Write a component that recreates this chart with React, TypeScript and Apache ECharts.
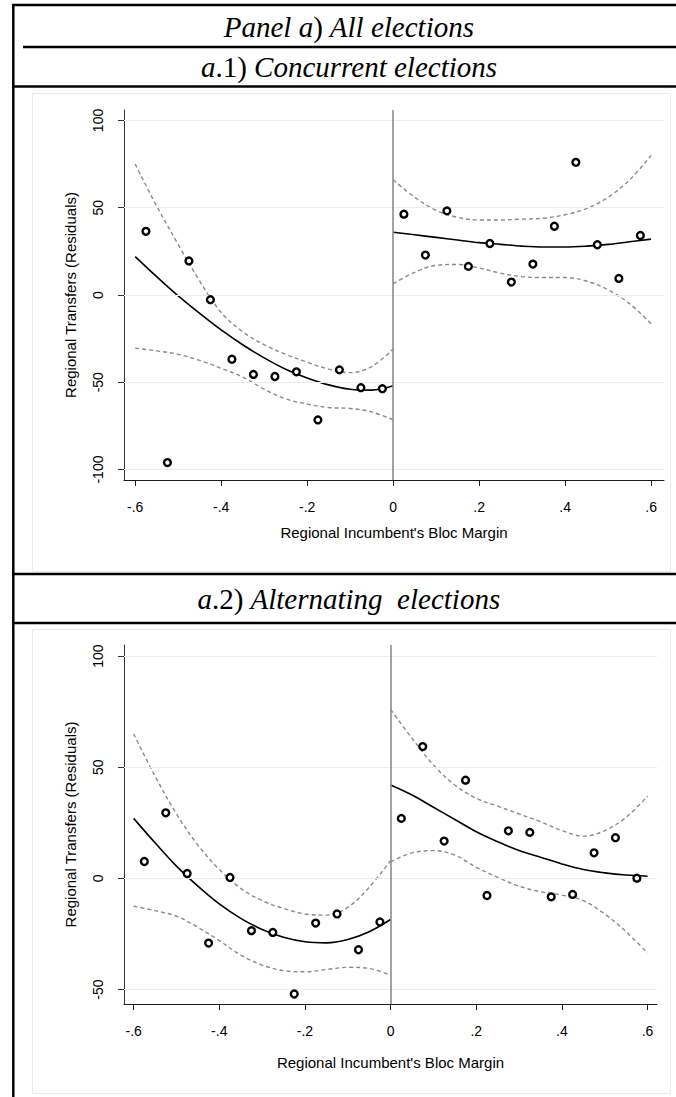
import React, { useEffect, useRef } from 'react';
import * as echarts from 'echarts';

// ---------- data ----------
const X_TICKS = [-0.6, -0.4, -0.2, 0, 0.2, 0.4, 0.6];
const Y1_TICKS = [-100, -50, 0, 50, 100];
const Y2_TICKS = [-50, 0, 50, 100];

const BIN_LEFT = [-0.575, -0.525, -0.475, -0.425, -0.375, -0.325, -0.275, -0.225, -0.175, -0.125, -0.075, -0.025];
const BIN_RIGHT = [0.025, 0.075, 0.125, 0.175, 0.225, 0.275, 0.325, 0.375, 0.425, 0.475, 0.525, 0.575];
const FIT_X_LEFT = [-0.6, -0.55, -0.5, -0.45, -0.4, -0.35, -0.3, -0.25, -0.2, -0.15, -0.1, -0.05, 0];
const FIT_X_RIGHT = [0, 0.05, 0.1, 0.15, 0.2, 0.25, 0.3, 0.35, 0.4, 0.45, 0.5, 0.55, 0.6];

// a.1) Concurrent elections
const P1_LEFT_Y = [36.5, -96, 19.5, -2.7, -36.8, -45.5, -46.7, -44, -71.6, -42.9, -53.1, -53.7];
const P1_RIGHT_Y = [46.3, 22.9, 48.2, 16.4, 29.5, 7.4, 17.7, 39.4, 76, 28.8, 9.5, 34.1];
const P1_FIT_L = [22, 10.5, -0.5, -10.5, -20, -28.5, -36, -42.5, -47.5, -51.5, -54, -54.5, -52];
const P1_UP_L = [75, 51, 29, 8, -10, -21, -28.5, -34, -38.5, -42.5, -44.5, -41, -31];
const P1_LO_L = [-30.5, -32, -34, -37.5, -42, -47, -54, -59.5, -62.5, -64.5, -65, -67, -71.5];
const P1_FIT_R = [36, 34.5, 33, 31.5, 30, 29, 28, 27.5, 27.5, 28, 29, 30.5, 32];
const P1_UP_R = [66, 56, 48.5, 44.5, 43, 43, 43.5, 44, 46, 49.5, 56, 66, 80];
const P1_LO_R = [6.5, 13, 17, 17.5, 15.5, 12.5, 10.5, 10, 10, 8, 3, -5, -16.5];

// a.2) Alternating elections
const P2_LEFT_Y = [7.6, 29.5, 2.2, -29.1, 0.4, -23.5, -24.3, -52, -20.1, -16, -32.1, -19.6];
const P2_RIGHT_Y = [27, 59.3, 16.8, 44.2, -7.7, 21.4, 20.7, -8.3, -7.2, 11.5, 18.3, 0.1];
const P2_FIT_L = [27, 16, 5.5, -3.5, -11.5, -18, -23, -26.5, -28.5, -29, -27.5, -24, -18.5];
const P2_UP_L = [65, 46, 29, 15, 4, -4.5, -10, -13.5, -16, -16.5, -13, -4, 8];
const P2_LO_L = [-12.5, -14.5, -17, -22, -28, -34.5, -39, -41.5, -42, -41, -40, -40.5, -43.5];
const P2_FIT_R = [42, 37.5, 32, 26.5, 21, 16.5, 12.5, 9.5, 6.5, 4, 2.5, 1.5, 1];
const P2_UP_R = [76, 63, 51, 42, 36, 32.5, 29, 25.5, 21.5, 19, 21.5, 27.5, 37];
const P2_LO_R = [7.5, 11.5, 12.5, 10.5, 5, 0.5, -3.5, -6, -7.5, -10, -16, -24, -33.5];

const X_TITLE = "Regional Incumbent's Bloc Margin";
const Y_TITLE = 'Regional Transfers (Residuals)';

// ---------- helpers ----------
const SANS = "'Liberation Sans', Arial, Helvetica, sans-serif";
const SERIF = "'Liberation Serif', 'Times New Roman', serif";

const zip = (xs: number[], ys: number[]) => xs.map((x, i) => [x, ys[i]]);

const fmtX = (v: number) => {
  if (Math.abs(v) < 1e-9) return '0';
  return (v < 0 ? '-' : '') + Math.abs(v).toFixed(1).replace(/^0/, '');
};

function makeAxes(idx: number, xMin: number, xMax: number, yMin: number, yMax: number, yTicks: number[], xNameGap: number) {
  const xAxis = {
    type: 'value',
    gridIndex: idx,
    min: xMin,
    max: xMax,
    axisLine: { show: true, onZero: false, lineStyle: { color: '#1a1a1a', width: 1 } },
    axisTick: { show: true, length: 6, customValues: X_TICKS, lineStyle: { color: '#1a1a1a', width: 1 } },
    axisLabel: { customValues: X_TICKS, formatter: fmtX, fontSize: 14, color: '#000', margin: 20, fontFamily: SANS },
    splitLine: { show: false },
    name: X_TITLE,
    nameLocation: 'middle',
    nameGap: xNameGap,
    nameTextStyle: { fontSize: 15, color: '#000', fontFamily: SANS },
  };
  const yAxis = {
    type: 'value',
    gridIndex: idx,
    min: yMin,
    max: yMax,
    axisLine: { show: true, onZero: false, lineStyle: { color: '#333', width: 1 } },
    axisTick: { show: true, length: 6, customValues: yTicks, lineStyle: { color: '#333', width: 1 } },
    axisLabel: { customValues: yTicks, rotate: 90, fontSize: 14, color: '#000', margin: 19, fontFamily: SANS },
    splitLine: { show: false },
    name: Y_TITLE,
    nameLocation: 'middle',
    nameGap: 46,
    nameRotate: 90,
    nameTextStyle: { fontSize: 15, color: '#000', fontFamily: SANS },
  };
  return { xAxis, yAxis };
}

function makeSeries(
  idx: number,
  yTicks: number[],
  leftY: number[], rightY: number[],
  fitL: number[], upL: number[], loL: number[],
  fitR: number[], upR: number[], loR: number[]
) {
  const base = { xAxisIndex: idx, yAxisIndex: idx };
  const solid = (data: number[][]) => ({
    ...base, type: 'line', data, smooth: 0.35, symbol: 'none', z: 3, silent: true,
    lineStyle: { color: '#000', width: 1.6 },
  });
  const dashed = (data: number[][]) => ({
    ...base, type: 'line', data, smooth: 0.35, symbol: 'none', z: 3, silent: true,
    lineStyle: { color: '#8a8a8a', width: 1.4, type: [4, 3] },
  });
  return [
    {
      ...base,
      type: 'line',
      data: [],
      z: 1,
      silent: true,
      markLine: {
        silent: true,
        symbol: ['none', 'none'],
        label: { show: false },
        animation: false,
        data: [
          ...yTicks.map((v) => ({ yAxis: v, lineStyle: { color: '#e6eef1', width: 1.2, type: 'solid' } })),
          { xAxis: 0, lineStyle: { color: '#8c8c8c', width: 1.6, type: 'solid' } },
        ],
      },
    },
    dashed(zip(FIT_X_LEFT, upL)),
    dashed(zip(FIT_X_LEFT, loL)),
    dashed(zip(FIT_X_RIGHT, upR)),
    dashed(zip(FIT_X_RIGHT, loR)),
    solid(zip(FIT_X_LEFT, fitL)),
    solid(zip(FIT_X_RIGHT, fitR)),
    {
      ...base,
      type: 'scatter',
      z: 5,
      symbol: 'circle',
      symbolSize: 6.8,
      itemStyle: { color: '#fff', borderColor: '#000', borderWidth: 2.4, opacity: 1 },
      data: [...zip(BIN_LEFT, leftY), ...zip(BIN_RIGHT, rightY)],
    },
  ];
}

const hLine = (x1: number, y: number, x2: number) => ({
  type: 'line',
  shape: { x1, y1: y, x2, y2: y },
  style: { stroke: '#000', lineWidth: 2.5 },
  silent: true,
});

const header = (y: number, text: string) => ({
  type: 'text',
  x: 349,
  y,
  silent: true,
  style: {
    text,
    align: 'center',
    verticalAlign: 'middle',
    rich: {
      i: { fontFamily: SERIF, fontStyle: 'italic', fontSize: 29, fill: '#000' },
      n: { fontFamily: SERIF, fontStyle: 'normal', fontSize: 29, fill: '#000' },
    },
  },
});

export default function App() {
  const ref = useRef<HTMLDivElement>(null);

  useEffect(() => {
    if (!ref.current) return;
    const chart = echarts.init(ref.current, null, { renderer: 'svg' });

    const a1 = makeAxes(0, -0.626, 0.63, -106, 106, Y1_TICKS, 45);
    const a2 = makeAxes(1, -0.6225, 0.622, -56.5, 105, Y2_TICKS, 51);

    chart.setOption({
      animation: false,
      backgroundColor: '#fff',
      grid: [
        { left: 124, top: 110, width: 540, height: 370, containLabel: false },
        { left: 124, top: 645, width: 533, height: 359, containLabel: false },
      ],
      xAxis: [a1.xAxis, a2.xAxis],
      yAxis: [a1.yAxis, a2.yAxis],
      series: [
        ...makeSeries(0, Y1_TICKS, P1_LEFT_Y, P1_RIGHT_Y, P1_FIT_L, P1_UP_L, P1_LO_L, P1_FIT_R, P1_UP_R, P1_LO_R),
        ...makeSeries(1, Y2_TICKS, P2_LEFT_Y, P2_RIGHT_Y, P2_FIT_L, P2_UP_L, P2_LO_L, P2_FIT_R, P2_UP_R, P2_LO_R),
      ],
      graphic: [
        {
          type: 'rect',
          shape: { x: 32.5, y: 93.5, width: 638, height: 478 },
          style: { fill: 'none', stroke: '#e3ebee', lineWidth: 1 },
          silent: true,
          z: -10,
        },
        {
          type: 'rect',
          shape: { x: 32.5, y: 629.5, width: 638, height: 464 },
          style: { fill: 'none', stroke: '#e3ebee', lineWidth: 1 },
          silent: true,
          z: -10,
        },
        hLine(12, 5, 676),
        hLine(23, 47, 676),
        hLine(12, 86.5, 676),
        hLine(12, 574, 676),
        hLine(12, 623, 676),
        {
          type: 'line',
          shape: { x1: 13.3, y1: 4, x2: 13.3, y2: 1097 },
          style: { stroke: '#000', lineWidth: 2.5 },
          silent: true,
        },
        header(27, '{i|Panel a}{n|)}{i| All elections}'),
        header(66.5, '{i|a}{n|.1)}{i| Concurrent elections}'),
        header(599, '{i|a}{n|.2)}{i| Alternating  elections}'),
      ],
    });

    return () => chart.dispose();
  }, []);

  return (
    <div
      ref={ref}
      style={{ position: 'absolute', left: 0, top: 0, width: 676, height: 1097, background: '#fff' }}
    />
  );
}
